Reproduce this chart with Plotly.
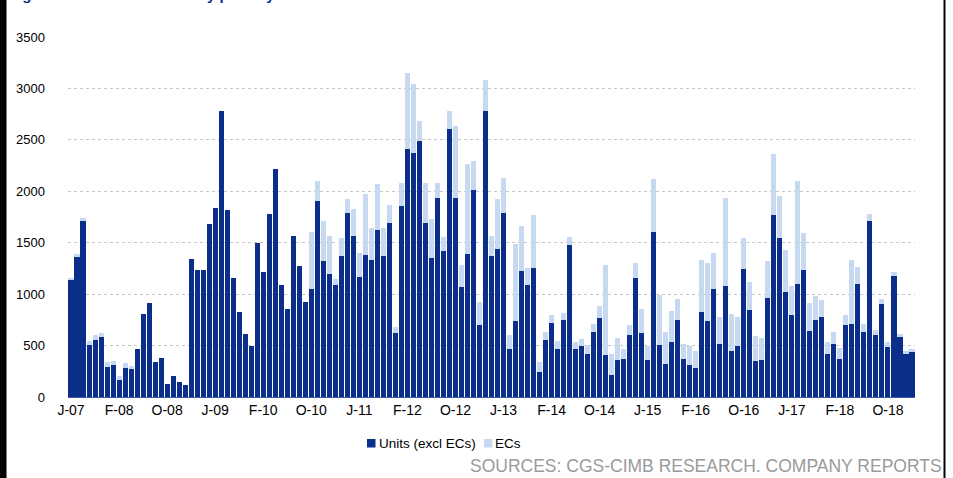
import plotly.graph_objects as go

# Monthly categories: Jun 2007 .. Feb 2019
MONTH_ABBR = ["Jan", "Feb", "Mar", "Apr", "May", "Jun",
              "Jul", "Aug", "Sep", "Oct", "Nov", "Dec"]
months = []
y, m = 2007, 5
for _ in range(141):
    months.append(f"{MONTH_ABBR[m]}-{y % 100:02d}")
    m += 1
    if m == 12:
        m, y = 0, y + 1

# Units sold excluding executive condominiums
units = [
    1134, 1361, 1714, 502, 551, 583, 292, 308, 162, 285,
    272, 463, 810, 914, 337, 382, 130, 204, 146, 120,
    1341, 1234, 1231, 1685, 1834, 2783, 1814, 1153, 826, 612,
    492, 1497, 1212, 1776, 2219, 1092, 859, 1562, 1270, 923,
    1053, 1905, 1319, 1192, 1085, 1367, 1788, 1562, 1166, 1377,
    1335, 1620, 1371, 1691, 622, 1857, 2407, 2375, 2485, 1691,
    1354, 1937, 1416, 2605, 1934, 1069, 1393, 2015, 697, 2780,
    1367, 1442, 1792, 463, 739, 1221, 1085, 1257, 243, 557,
    719, 463, 745, 1474, 463, 492, 421, 632, 771, 405,
    211, 356, 373, 599, 1160, 625, 356, 1604, 502, 324,
    535, 745, 366, 308, 285, 826, 735, 1047, 518, 1079,
    447, 492, 1241, 842, 350, 363, 966, 1766, 1549, 1021,
    800, 1095, 1231, 638, 745, 778, 415, 512, 366, 703,
    713, 1102, 632, 1711, 599, 907, 486, 1176, 583, 421,
    437,
]

# Executive condominium units sold
ecs = [
    26, 26, 26, 39, 49, 42, 45, 39, 39, 49,
    33, 0, 0, 0, 0, 0, 0, 0, 0, 0,
    0, 0, 0, 0, 0, 0, 0, 0, 0, 0,
    0, 0, 0, 0, 0, 0, 0, 0, 0, 0,
    551, 195, 388, 370, 65, 182, 140, 269, 237, 599,
    311, 454, 275, 175, 58, 226, 745, 671, 198, 392,
    379, 146, 139, 175, 697, 211, 875, 276, 226, 304,
    198, 486, 337, 143, 751, 438, 169, 515, 97, 72,
    75, 81, 75, 81, 72, 75, 81, 81, 110, 881,
    204, 221, 90, 98, 142, 227, 140, 512, 486, 311,
    298, 211, 152, 184, 159, 509, 571, 353, 260, 859,
    363, 286, 308, 276, 240, 214, 353, 599, 401, 405,
    276, 1005, 366, 276, 233, 168, 120, 120, 114, 91,
    622, 162, 81, 71, 49, 49, 49, 39, 32, 26,
    33,
]

# Axis ticks: every eighth month, labelled with month initial and year
tick_vals = months[::8]
tick_text = [f"{lbl[0]}-{lbl[-2:]}" for lbl in tick_vals]
y_ticks = [0, 500, 1000, 1500, 2000, 2500, 3000, 3500]

DARK = "#0b2e8a"
LIGHT = "#c6d9f0"
FONT = "Liberation Sans, Arial, sans-serif"

fig = go.Figure()
fig.add_trace(go.Bar(x=months, y=units, name="Units (excl ECs)",
                     marker=dict(color=DARK, line=dict(width=0))))
fig.add_trace(go.Bar(x=months, y=ecs, name="ECs",
                     marker=dict(color=LIGHT, line=dict(width=0))))

# pixel -> paper helpers for the fixed 953x478 canvas
L, R, T, B = 68, 38, 37, 81
PW, PH = 953 - L - R, 478 - T - B


def px(x):
    return (x - L) / PW


def py(y):
    return (478 - B - y) / PH


shapes = [
    # dark frame edges
    dict(type="rect", xref="paper", yref="paper", x0=px(0), x1=px(6.5),
         y0=py(480), y1=py(-2), fillcolor="black", line=dict(width=0)),
    dict(type="rect", xref="paper", yref="paper", x0=px(943.5), x1=px(945.5),
         y0=py(480), y1=py(-2), fillcolor="black", line=dict(width=0)),
    # legend swatches
    dict(type="rect", xref="paper", yref="paper", x0=px(367), x1=px(375.5),
         y0=py(447.5), y1=py(439), fillcolor=DARK, line=dict(width=0)),
    dict(type="rect", xref="paper", yref="paper", x0=px(484), x1=px(492.5),
         y0=py(447.5), y1=py(439), fillcolor=LIGHT, line=dict(width=0)),
]

annotations = [
    dict(text="Units (excl ECs)", xref="paper", yref="paper", x=px(377),
         y=py(443.5), xanchor="left", yanchor="middle", showarrow=False,
         font=dict(family=FONT, size=13.5, color="#000000")),
    dict(text="ECs", xref="paper", yref="paper", x=px(493.5),
         y=py(443.5), xanchor="left", yanchor="middle", showarrow=False,
         font=dict(family=FONT, size=13.5, color="#000000")),
    dict(text="SOURCES: CGS-CIMB RESEARCH. COMPANY REPORTS", xref="paper",
         yref="paper", x=px(944), y=py(466), xanchor="right",
         yanchor="middle", showarrow=False,
         font=dict(family=FONT, size=17.5, color="#9a9a9a")),
    dict(text="<b>Figure 12: Total new monthly primary sales</b>",
         xref="paper", yref="paper", x=px(7), y=py(-5), xanchor="left",
         yanchor="middle", showarrow=False,
         font=dict(family=FONT, size=15, color="#0b2e8a")),
]

fig.update_layout(
    width=953, height=478,
    margin=dict(l=L, r=R, t=T, b=B, pad=0),
    barmode="stack", bargap=0.16,
    paper_bgcolor="white", plot_bgcolor="white",
    showlegend=False,
    font=dict(family=FONT, color="#000000"),
    shapes=shapes, annotations=annotations,
    xaxis=dict(type="category", range=[-0.5, len(months) - 0.5],
               tickmode="array", tickvals=tick_vals, ticktext=tick_text,
               tickfont=dict(size=14), ticks="", showgrid=False,
               showline=True, linecolor="#3a5aa8", linewidth=1),
    yaxis=dict(range=[0, 3500], tickvals=y_ticks, tickformat="d",
               tickfont=dict(size=13), showgrid=True, gridcolor="#c8c8c8",
               griddash="dot", gridwidth=1, zeroline=False, showline=False,
               ticks="", ticklabelstandoff=22),
)

fig.write_html("out.html")
